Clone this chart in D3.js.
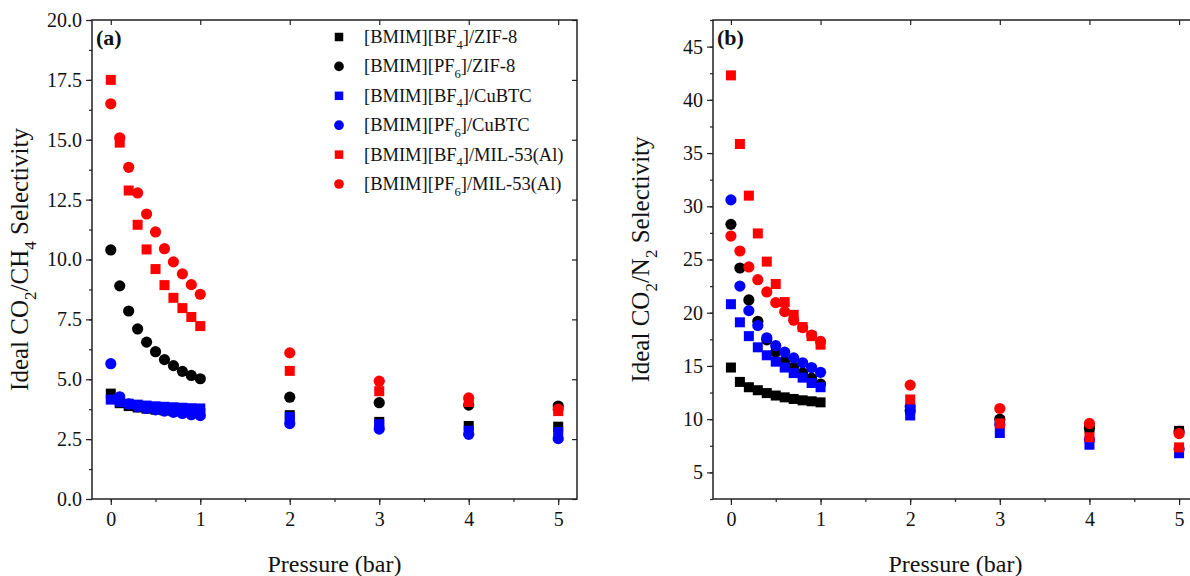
<!DOCTYPE html>
<html>
<head>
<meta charset="utf-8">
<script src="https://cdn.jsdelivr.net/npm/d3@7"></script>
<style>
  body { margin: 0; background: #fff; }
  svg text { font-family: "Liberation Serif", "Times New Roman", serif; fill: #111; }
</style>
</head>
<body>
<svg id="chart" width="1190" height="576"></svg>
<script>
// pressure points (bar)
const pressure = [0, 0.1, 0.2, 0.3, 0.4, 0.5, 0.6, 0.7, 0.8, 0.9, 1.0, 2, 3, 4, 5];

const seriesNames = [
    "[BMIM][BF_4]/ZIF-8", "[BMIM][PF_6]/ZIF-8",
    "[BMIM][BF_4]/CuBTC", "[BMIM][PF_6]/CuBTC",
    "[BMIM][BF_4]/MIL-53(Al)", "[BMIM][PF_6]/MIL-53(Al)"
];
const seriesColors = ["#000000", "#000000", "#0000ff", "#0000ff", "#ff0000", "#ff0000"];
const seriesShapes = ["square", "circle", "square", "circle", "square", "circle"];

// (a) CO2/CH4 selectivity
const ch4Bf4Zif8  = [4.4, 4.0, 3.88, 3.82, 3.77, 3.73, 3.7, 3.67, 3.64, 3.62, 3.6, 3.5, 3.22, 3.05, 3.02];
const ch4Pf6Zif8  = [10.4, 8.9, 7.85, 7.1, 6.55, 6.15, 5.82, 5.57, 5.33, 5.16, 5.02, 4.25, 4.02, 3.92, 3.88];
const ch4Bf4Cubtc = [4.15, 4.05, 3.98, 3.94, 3.9, 3.87, 3.85, 3.83, 3.81, 3.79, 3.78, 3.42, 3.12, 2.85, 2.8];
const ch4Pf6Cubtc = [5.65, 4.27, 3.97, 3.85, 3.78, 3.72, 3.67, 3.62, 3.57, 3.52, 3.48, 3.15, 2.92, 2.7, 2.52];
const ch4Bf4Mil   = [17.5, 14.88, 12.88, 11.45, 10.42, 9.6, 8.93, 8.4, 7.97, 7.6, 7.22, 5.35, 4.5, 4.05, 3.67];
const ch4Pf6Mil   = [16.5, 15.08, 13.85, 12.78, 11.9, 11.15, 10.45, 9.9, 9.4, 8.95, 8.55, 6.1, 4.92, 4.22, 3.75];

// (b) CO2/N2 selectivity
const n2Bf4Zif8  = [14.85, 13.5, 13.0, 12.72, 12.45, 12.22, 12.05, 11.9, 11.77, 11.68, 11.58, 10.9, 9.8, 9.2, 8.9];
const n2Pf6Zif8  = [28.3, 24.2, 21.2, 19.2, 17.45, 16.3, 15.5, 14.9, 14.35, 13.85, 13.3, 10.8, 10.0, 9.15, 8.85];
const n2Bf4Cubtc = [20.8, 19.1, 17.8, 16.75, 16.0, 15.4, 14.85, 14.33, 13.9, 13.4, 13.0, 10.35, 8.7, 7.6, 6.8];
const n2Pf6Cubtc = [30.6, 22.5, 20.2, 18.8, 17.65, 16.9, 16.3, 15.76, 15.3, 14.85, 14.4, 11.2, 9.5, 8.1, 7.2];
const n2Bf4Mil   = [42.3, 35.85, 31.0, 27.45, 24.8, 22.7, 21.0, 19.8, 18.65, 17.8, 17.0, 11.85, 9.6, 8.3, 7.35];
const n2Pf6Mil   = [27.2, 25.8, 24.3, 23.1, 21.95, 20.95, 20.1, 19.3, 18.6, 17.9, 17.3, 13.2, 11.0, 9.6, 8.65];

const xTicks = [0, 1, 2, 3, 4, 5];
const yTicksA = [0, 2.5, 5, 7.5, 10, 12.5, 15, 17.5, 20];
const yTicksB = [5, 10, 15, 20, 25, 30, 35, 40, 45];

const svg = d3.select("#chart");

// writes "CO_2" style strings with subscripts into a text node
function richText(sel, str, size) {
    const parts = str.split(/_(\d)/);
    const shift = size * 0.3;
    let down = false;
    parts.forEach((p, i) => {
        if (!p) return;
        const ts = sel.append("tspan").text(p);
        if (i % 2 === 1) {
            ts.attr("dy", shift).attr("font-size", size * 0.68);
            down = true;
        } else if (down) {
            ts.attr("dy", -shift);
            down = false;
        }
    });
}

function symbol(g, shape, color, cx, cy, s) {
    if (shape === "square") {
        g.append("rect").attr("x", cx - s / 2).attr("y", cy - s / 2)
            .attr("width", s).attr("height", s).attr("fill", color);
    } else {
        g.append("circle").attr("cx", cx).attr("cy", cy).attr("r", s / 2 + 0.6).attr("fill", color);
    }
}

function drawPanel(opts) {
    const {left, right, top, bottom, xDomain, yDomain, yTicks, yFormat, series, label, yTitle, titleX} = opts;
    const x = d3.scaleLinear().domain(xDomain).range([left, right]);
    const y = d3.scaleLinear().domain(yDomain).range([bottom, top]);
    const g = svg.append("g");

    const yStep = yTicks[1] - yTicks[0];
    const yMinor = d3.range(yTicks[0] - yStep / 2, yDomain[1] + 0.001, yStep / 2).filter(v => v >= yDomain[0]);
    const xMinor = d3.range(0, 5.01, 0.5);

    // bottom axis (outward ticks)
    g.append("g").attr("transform", `translate(0,${bottom})`)
        .call(d3.axisBottom(x).tickValues(xMinor).tickSize(3).tickFormat(""))
        .call(a => a.select(".domain").remove());
    g.append("g").attr("transform", `translate(0,${bottom})`)
        .call(d3.axisBottom(x).tickValues(xTicks).tickSize(6).tickPadding(7).tickFormat(d3.format("d")))
        .call(a => a.select(".domain").remove())
        .call(a => a.selectAll("text").attr("font-size", 20).attr("font-family", "Liberation Serif"));

    // left axis (outward ticks)
    g.append("g").attr("transform", `translate(${left},0)`)
        .call(d3.axisLeft(y).tickValues(yMinor).tickSize(3).tickFormat(""))
        .call(a => a.select(".domain").remove());
    g.append("g").attr("transform", `translate(${left},0)`)
        .call(d3.axisLeft(y).tickValues(yTicks).tickSize(6).tickPadding(4).tickFormat(yFormat))
        .call(a => a.select(".domain").remove())
        .call(a => a.selectAll("text").attr("font-size", 20).attr("font-family", "Liberation Serif"));

    // top and right mirror ticks (inward)
    g.append("g").attr("transform", `translate(0,${top})`)
        .call(d3.axisBottom(x).tickValues(xTicks).tickSize(5).tickFormat(""))
        .call(a => a.select(".domain").remove());
    g.append("g").attr("transform", `translate(${right},0)`)
        .call(d3.axisLeft(y).tickValues(yTicks).tickSize(5).tickFormat(""))
        .call(a => a.select(".domain").remove());

    g.selectAll(".tick line").attr("stroke", "#222").attr("stroke-width", 1.2);

    g.append("rect")
        .attr("x", left).attr("y", top)
        .attr("width", right - left).attr("height", bottom - top)
        .attr("fill", "none").attr("stroke", "#222").attr("stroke-width", 1.5);

    // markers
    series.forEach((vals, i) => {
        const sg = g.append("g");
        vals.forEach((v, j) => symbol(sg, seriesShapes[i], seriesColors[i], x(pressure[j]), y(v), 10));
    });

    g.append("text").attr("x", left + 4).attr("y", top + 25)
        .attr("font-size", 22).attr("font-weight", "bold").text(label);

    g.append("text").attr("x", (left + Math.min(right, 1190)) / 2 + (titleX || 0)).attr("y", 572)
        .attr("text-anchor", "middle").attr("font-size", 24).text("Pressure (bar)");

    const yt = g.append("text")
        .attr("transform", `translate(${left - 64},${(top + bottom) / 2}) rotate(-90)`)
        .attr("text-anchor", "middle").attr("font-size", 25);
    richText(yt, yTitle, 25);

    return {x, y, g};
}

drawPanel({
    left: 92, right: 577, top: 20, bottom: 499,
    xDomain: [-0.21, 5.21], yDomain: [0, 20],
    yTicks: yTicksA, yFormat: d3.format(".1f"),
    series: [ch4Bf4Zif8, ch4Pf6Zif8, ch4Bf4Cubtc, ch4Pf6Cubtc, ch4Bf4Mil, ch4Pf6Mil],
    label: "(a)", yTitle: "Ideal CO_2/CH_4 Selectivity"
});

drawPanel({
    left: 713, right: 1197, top: 20, bottom: 499,
    xDomain: [-0.2, 5.2], yDomain: [2.5, 47.5],
    yTicks: yTicksB, yFormat: d3.format("d"),
    series: [n2Bf4Zif8, n2Pf6Zif8, n2Bf4Cubtc, n2Pf6Cubtc, n2Bf4Mil, n2Pf6Mil],
    label: "(b)", yTitle: "Ideal CO_2/N_2 Selectivity", titleX: 4
});

// legend inside panel (a)
const legend = svg.append("g");
seriesNames.forEach((name, i) => {
    const ly = 37 + i * 29.4;
    symbol(legend, seriesShapes[i], seriesColors[i], 339, ly, 8.5);
    const t = legend.append("text").attr("x", 364).attr("y", ly + 6).attr("font-size", 18.5);
    richText(t, name, 18.5);
});
</script>
</body>
</html>
